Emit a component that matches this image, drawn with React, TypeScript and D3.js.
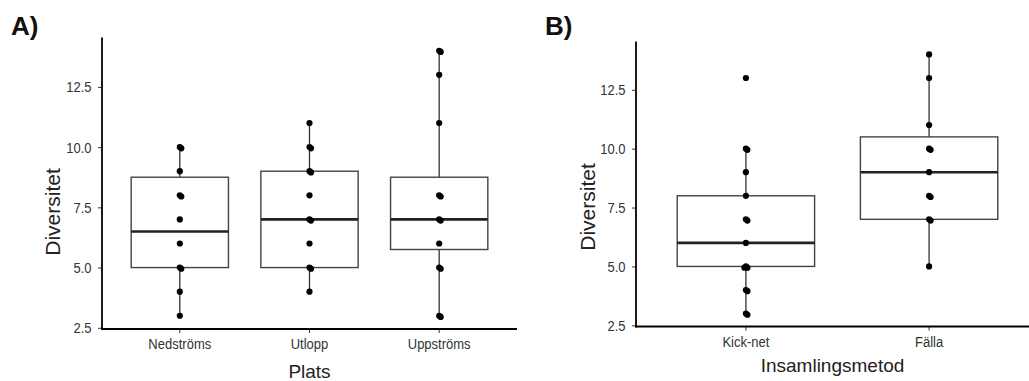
import React, { useEffect, useRef } from "react";
import * as d3 from "d3";

// Panel A: diversity per site
const sites = ["Nedströms", "Utlopp", "Uppströms"];
const sitePoints = [
  [10, 10, 9, 8, 8, 7, 6, 5, 5, 4, 3],
  [11, 10, 10, 9, 9, 8, 7, 7, 6, 5, 5, 4],
  [14, 14, 13, 11, 8, 8, 7, 7, 6, 5, 5, 3, 3],
];
const siteQ1 = [5, 5, 5.75];
const siteMedian = [6.5, 7, 7];
const siteQ3 = [8.75, 9, 8.75];
const siteLow = [3, 4, 3];
const siteHigh = [10, 11, 14];

// Panel B: diversity per sampling method
const methods = ["Kick-net", "Fälla"];
const methodPoints = [
  [13, 10, 10, 9, 8, 7, 7, 6, 5, 5, 5, 4, 4, 3, 3],
  [14, 13, 11, 10, 10, 9, 8, 8, 7, 7, 5],
];
const methodQ1 = [5, 7];
const methodMedian = [6, 9];
const methodQ3 = [8, 10.5];
const methodLow = [3, 5];
const methodHigh = [10, 14];

const yTicks = [2.5, 5, 7.5, 10, 12.5];
const yDomain = [2.45, 14.55];

const FONT = "'Liberation Sans', Arial, sans-serif";
const SQUEEZE = 0.84; // tick labels in the original are horizontally condensed

function Panel({ cats, points, q1, med, q3, lo, hi, x0, x1, yTop, yBottom, tag, xTitle, yTitleX, yTitleY, xTitleY }) {
  const yAxisRef = useRef(null);
  const xAxisRef = useRef(null);

  const x = d3.scaleBand().domain(cats).range([x0, x1]).paddingInner(0.25).paddingOuter(0.225);
  const y = d3.scaleLinear().domain(yDomain).range([yBottom, yTop]);

  useEffect(() => {
    const ya = d3
      .axisLeft(y)
      .tickValues(yTicks)
      .tickFormat(d3.format(".1f"))
      .tickSize(4)
      .tickPadding(6);
    const yg = d3.select(yAxisRef.current).call(ya);
    yg.select(".domain").remove();
    yg.selectAll("line").attr("stroke", "#333");
    yg.selectAll("text")
      .attr("fill", "#333")
      .attr("x", -10.5 / SQUEEZE)
      .attr("transform", `scale(${SQUEEZE},1)`)
      .style("font-size", "15.5px")
      .style("font-family", FONT);

    const xa = d3.axisBottom(x).tickSize(4).tickPadding(5.5);
    const xg = d3.select(xAxisRef.current).call(xa);
    xg.select(".domain").remove();
    xg.selectAll("line").attr("stroke", "#333");
    xg.selectAll("text")
      .attr("fill", "#333")
      .attr("transform", `scale(${SQUEEZE},1)`)
      .style("font-size", "15.5px")
      .style("font-family", FONT);
  });

  const bw = x.bandwidth();

  return (
    <g>
      <text x={x0 - 91} y={35} fontSize={26} fontWeight="bold" fontFamily={FONT} fill="#111">
        {tag}
      </text>
      {cats.map((c, i) => {
        const cx = x(c) + bw / 2;
        const seen = {};
        return (
          <g key={c}>
            <line x1={cx} x2={cx} y1={y(hi[i])} y2={y(q3[i])} stroke="#333" strokeWidth={1.3} />
            <line x1={cx} x2={cx} y1={y(q1[i])} y2={y(lo[i])} stroke="#333" strokeWidth={1.3} />
            <rect
              x={x(c)}
              width={bw}
              y={y(q3[i])}
              height={y(q1[i]) - y(q3[i])}
              fill="white"
              stroke="#444"
              strokeWidth={1.4}
            />
            <line x1={x(c)} x2={x(c) + bw} y1={y(med[i])} y2={y(med[i])} stroke="#222" strokeWidth={2.6} />
            {points[i].map((v, j) => {
              const k = (seen[v] = (seen[v] || 0) + 1);
              const dx = k === 1 ? 0 : k % 2 === 0 ? 1.5 : -1.5;
              const dy = k === 1 ? 0 : 1.2;
              return <circle key={j} cx={cx + dx} cy={y(v) + dy} r={3.1} fill="#000" />;
            })}
          </g>
        );
      })}
      <g ref={yAxisRef} transform={`translate(${x0},0)`} />
      <g ref={xAxisRef} transform={`translate(0,${yBottom})`} />
      <line x1={x0} x2={x0} y1={yTop} y2={yBottom + 1} stroke="#000" strokeWidth={1.8} />
      <line x1={x0 - 1} x2={x1} y1={yBottom} y2={yBottom} stroke="#000" strokeWidth={1.8} />
      <text
        transform={`translate(${yTitleX},${yTitleY}) rotate(-90)`}
        textAnchor="middle"
        fontSize={21}
        fontFamily={FONT}
        fill="#222"
      >
        Diversitet
      </text>
      <text x={(x0 + Math.min(x1, 1029)) / 2} y={xTitleY} textAnchor="middle" fontSize={19} fontFamily={FONT} fill="#222">
        {xTitle}
      </text>
    </g>
  );
}

export default function App() {
  return (
    <svg
      width={1029}
      height={381}
      style={{ position: "absolute", left: 0, top: 0, background: "white" }}
    >
      <rect width={1029} height={381} fill="white" />
      <Panel
        cats={sites}
        points={sitePoints}
        q1={siteQ1}
        med={siteMedian}
        q3={siteQ3}
        lo={siteLow}
        hi={siteHigh}
        x0={102}
        x1={517}
        yTop={37.5}
        yBottom={329}
        tag="A)"
        xTitle="Plats"
        yTitleX={60}
        yTitleY={212}
        xTitleY={378}
      />
      <Panel
        cats={methods}
        points={methodPoints}
        q1={methodQ1}
        med={methodMedian}
        q3={methodQ3}
        lo={methodLow}
        hi={methodHigh}
        x0={636}
        x1={1039}
        yTop={41.5}
        yBottom={326.5}
        tag="B)"
        xTitle="Insamlingsmetod"
        yTitleX={595}
        yTitleY={207}
        xTitleY={372}
      />
    </svg>
  );
}
